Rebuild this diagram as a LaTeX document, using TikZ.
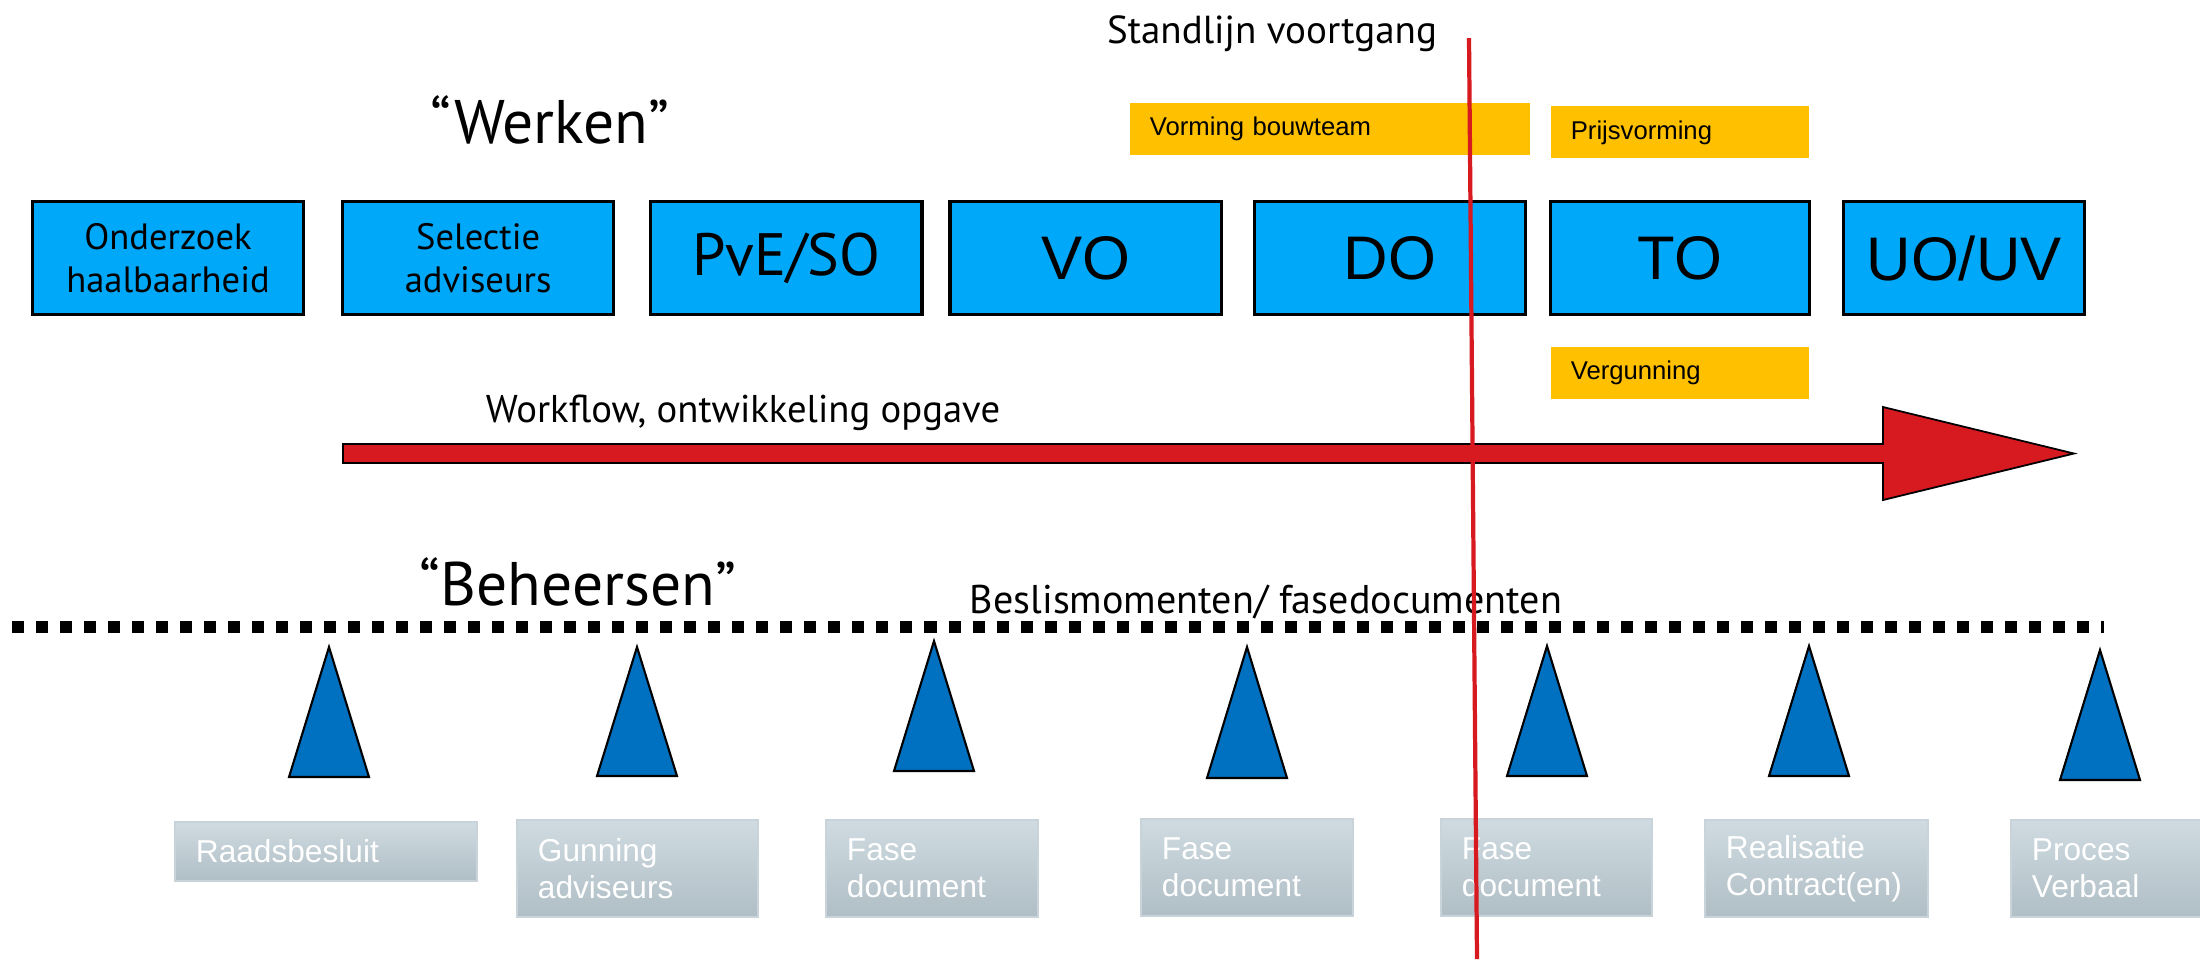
\documentclass[tikz,border=0pt]{standalone}
\usepackage{fontspec}
\setmainfont{Liberation Sans}
\newfontfamily\gillfont{PT Sans}
\usetikzlibrary{positioning}

\definecolor{phaseblue}{RGB}{0,168,250}
\definecolor{triblue}{RGB}{0,112,192}
\definecolor{noteorange}{RGB}{255,192,0}
\definecolor{standred}{RGB}{215,25,32}
\definecolor{doctop}{RGB}{207,219,225}
\definecolor{docbottom}{RGB}{176,190,197}
\definecolor{docedge}{RGB}{200,212,218}

\begin{document}
\begin{tikzpicture}[
  x = 0.01cm, y = -0.01cm,
  phase/.style={rectangle, text centered, draw, line width=0.9pt, fill=phaseblue,
    minimum height = 1.13cm, minimum width = 2.71cm, inner sep=0pt, outer sep=0pt},
  phase_small/.style={phase, align=center, font=\gillfont\fontsize{10.4}{12.2}\selectfont},
  phase_big/.style={phase, font=\fontsize{17.5}{20}\selectfont},
  note/.style={rectangle, fill=noteorange, minimum height = 0.52cm, inner xsep=0.2cm,
    outer sep=0pt, text width=#1, align=left, font=\fontsize{7.3}{8.5}\selectfont},
  doc/.style={rectangle, draw=docedge, line width=0.6pt, top color=doctop, bottom color=docbottom,
    text=white, minimum height = 0.97cm, inner xsep=0.21cm, text width=#1, align=left,
    font=\fontsize{9}{10.5}\selectfont},
  title/.style={anchor=base, font=\gillfont\fontsize{17.5}{20}\selectfont},
  caption/.style={anchor=base, font=\gillfont\fontsize{11}{13}\selectfont},
  milestone/.style={fill=triblue, draw=black, line width=0.6pt}
  ]
\useasboundingbox (0,0) rectangle (2200,959);

\node [title] (werken) at (550,143) {“Werken”};
\node [title] (beheersen) at (578,605) {“Beheersen”};
\node [caption] (workflow) at (743,422) {Workflow, ontwikkeling opgave};
\node [caption, font=\gillfont\fontsize{11.1}{13}\selectfont] (standlijn) at (1272,43) {Standlijn voortgang};
\node [caption, font=\gillfont\fontsize{11.4}{13}\selectfont] (beslis) at (1266,613) {Beslismomenten/ fasedocumenten};

\node [phase_small] (onderzoek) at (168,258) {Onderzoek\\haalbaarheid};
\node [phase_small, right=0.39cm of onderzoek] (selectie) {Selectie\\adviseurs};
\node [phase_big, font=\gillfont\fontsize{17}{20}\selectfont, right=0.37cm of selectie] (pve) {PvE/SO};
\node [phase_big, right=0.28cm of pve] (vo) {VO};
\node [phase_big, right=0.33cm of vo] (do) {DO};
\node [phase_big, minimum width=2.59cm, right=0.25cm of do] (to) {TO};
\node [phase_big, minimum width=2.41cm, right=0.34cm of to] (uo) {UO/UV};

\node [note=3.6cm] (bouwteam) at (1330,129) {Vorming bouwteam};
\node [note=2.18cm, above=0.43cm of to] (prijs) {Prijsvorming};
\node [note=2.18cm, below=0.32cm of to] (vergunning) {Vergunning};

\draw [fill=standred, draw=black, line width=0.5pt] (343,444) -- (1883,444) -- (1883,407)
  -- (2074,453.5) -- (1883,500) -- (1883,463) -- (343,463) -- cycle;

\draw [line width=0.12cm, dash pattern=on 0.12cm off 0.12cm] (12,627) -- (2104,627);

\foreach \x/\ya/\yb in {329/647/777, 637/647/776, 934/641/771, 1247/647/778,
  1547/646/776, 1809/646/776, 2100/650/780}
  \draw [milestone] (\x,\ya) -- (\x+40,\yb) -- (\x-40,\yb) -- cycle;

\node [doc=2.6cm, minimum height=0.59cm] (raad) at (326,851.5) {Raadsbesluit};
\node [doc=1.99cm] (gunning) at (637.5,868.5) {Gunning\\adviseurs};
\node [doc=1.70cm] (fase1) at (932,868.5) {Fase\\document};
\node [doc=1.70cm] (fase2) at (1247,867.5) {Fase\\document};
\node [doc=1.69cm] (fase3) at (1546.5,867.5) {Fase\\document};
\node [doc=1.81cm] (realisatie) at (1816.5,868.5) {Realisatie\\Contract(en)};
\node [doc=1.69cm] (proces) at (2116.5,868.5) {Proces\\Verbaal};

\coordinate (stand_top) at (1469,38);
\coordinate (stand_bottom) at (1477,959);
\draw [standred, line width=1.2pt] (stand_top) -- (stand_bottom);
\end{tikzpicture}
\end{document}
